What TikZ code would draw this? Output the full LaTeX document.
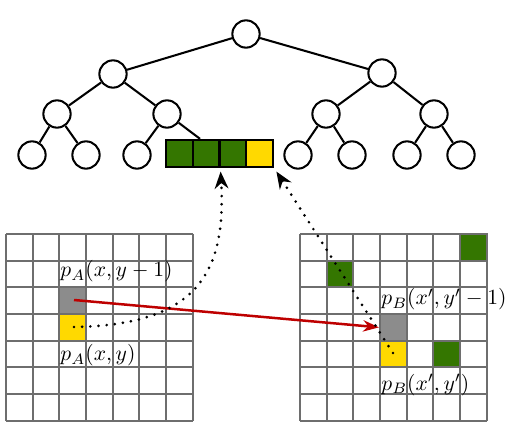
\documentclass[tikz,border=0pt]{standalone}
\usetikzlibrary{arrows.meta}
\definecolor{leafgreen}{RGB}{52,118,0}
\definecolor{cellyellow}{RGB}{255,217,0}
\definecolor{cellgrey}{RGB}{140,140,140}
\definecolor{gridgrey}{RGB}{110,110,110}
\definecolor{arrowred}{RGB}{190,0,0}
\tikzset{
  tn/.style={circle,draw=black,line width=0.9pt,fill=white,minimum size=12pt,inner sep=0pt},
  gline/.style={draw=gridgrey,line width=0.9pt},
  gcell/.style={rectangle,draw=gridgrey,line width=0.9pt,minimum size=11.73pt,inner sep=0pt},
  bcell/.style={rectangle,draw=black,line width=1pt,minimum width=11.77pt,minimum height=11.9pt,inner sep=0pt},
  edge/.style={draw=black,line width=0.9pt},
  dotarrow/.style={line width=1.3pt,line cap=round,dash pattern=on 0pt off 3.6pt,-{Stealth[length=7.5pt,width=6pt]}},
  redarrow/.style={draw=arrowred,line width=1.1pt,-{Stealth[length=7pt,width=5pt]}},
  lbl/.style={anchor=base west,inner sep=0pt,scale=0.95}
}
\begin{document}
\begin{tikzpicture}[x=0.44pt,y=-0.44pt]
\useasboundingbox (0,0) rectangle (510,430);
% tree
\node[tn] (r) at (246,34) {};
\node[tn] (a) at (113,74) {};
\node[tn] (b) at (382,73) {};
\node[tn] (aa) at (57,114) {};
\node[tn] (ab) at (167,114) {};
\node[tn] (ba) at (326,114) {};
\node[tn] (bb) at (434,114) {};
\node[tn] (l1) at (32,155) {};
\node[tn] (l2) at (86,155) {};
\node[tn] (l3) at (137,155) {};
\node[tn] (l5) at (298,155) {};
\node[tn] (l6) at (352,155) {};
\node[tn] (l7) at (407,155) {};
\node[tn] (l8) at (461,155) {};
% bar
\node[bcell,fill=leafgreen] (c1) at (179.4,153.5) {};
\node[bcell,fill=leafgreen] (c2) at (206.1,153.5) {};
\node[bcell,fill=leafgreen] (c3) at (232.9,153.5) {};
\node[bcell,fill=cellyellow] (c4) at (259.6,153.5) {};
\node[rectangle,draw=black,line width=1pt,minimum width=47.1pt,minimum height=11.9pt,inner sep=0pt] (bar) at (219.5,153.5) {};
\draw[edge] (r) -- (a);
\draw[edge] (r) -- (b);
\draw[edge] (a) -- (aa);
\draw[edge] (a) -- (ab);
\draw[edge] (b) -- (ba);
\draw[edge] (b) -- (bb);
\draw[edge] (aa) -- (l1);
\draw[edge] (aa) -- (l2);
\draw[edge] (ab) -- (l3);
\draw[edge] (ab) -- (bar);
\draw[edge] (ba) -- (l5);
\draw[edge] (ba) -- (l6);
\draw[edge] (bb) -- (l7);
\draw[edge] (bb) -- (l8);
% left grid
\foreach \i in {0,...,7} {
  \draw[gline] (6+\i*26.67,234) -- (6+\i*26.67,420.7);
  \draw[gline] (6,234+\i*26.67) -- (192.7,234+\i*26.67);
}
\node[gcell,fill=cellgrey] (Ag) at (6+2.5*26.67,234+2.5*26.67) {};
\node[gcell,fill=cellyellow] (Ay) at (6+2.5*26.67,234+3.5*26.67) {};
\node[lbl] (Lab1) at (60,277) {$p_A(x,y-1)$};
\node[lbl] (Lab2) at (60,361) {$p_A(x,y)$};
% right grid
\foreach \i in {0,...,7} {
  \draw[gline] (300+\i*26.67,234) -- (300+\i*26.67,420.7);
  \draw[gline] (300,234+\i*26.67) -- (486.7,234+\i*26.67);
}
\node[gcell,fill=leafgreen] (Bg1) at (300+6.5*26.67,234+0.5*26.67) {};
\node[gcell,fill=leafgreen] (Bg2) at (300+1.5*26.67,234+1.5*26.67) {};
\node[gcell,fill=leafgreen] (Bg3) at (300+5.5*26.67,234+4.5*26.67) {};
\node[gcell,fill=cellgrey] (Bgr) at (300+3.5*26.67,234+3.5*26.67) {};
\node[gcell,fill=cellyellow] (By) at (300+3.5*26.67,234+4.5*26.67) {};
\node[lbl] (Lbb1) at (381,305) {$p_B(x',y'-1)$};
\node[lbl] (Lbb2) at (381,390) {$p_B(x',y')$};
% connectors
\coordinate (Ast) at (74,300);
\coordinate (Ays) at (74,327);
\coordinate (Bys) at (393,353);
\draw[redarrow] (Ast) -- (Bgr.west);
\draw[dotarrow] (Ays) .. controls (200,325) and (226,270) .. ([yshift=-1.5pt]c2.south east);
\draw[dotarrow] (Bys) -- ([xshift=1pt,yshift=-1.5pt]c4.south east);
\end{tikzpicture}
\end{document}
